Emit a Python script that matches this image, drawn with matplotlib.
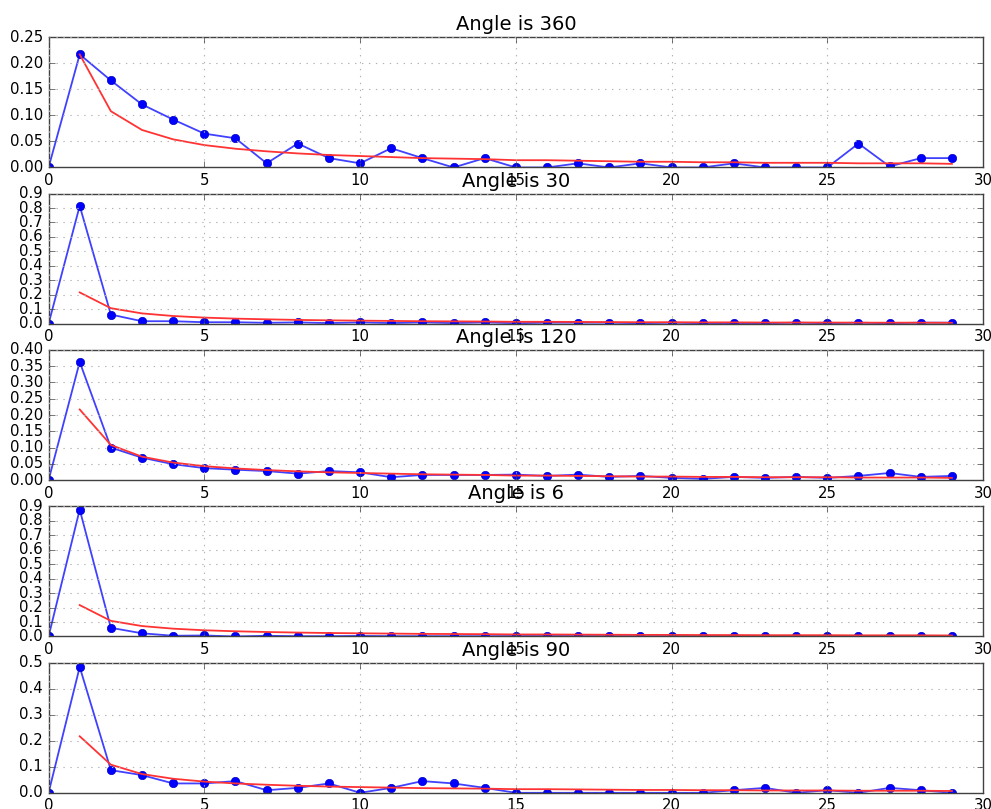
import matplotlib
matplotlib.use('Agg')
import matplotlib.pyplot as plt
import numpy as np

plt.style.use('classic')

# bin index along x
steps = list(range(30))
model_steps = list(range(1, 30))

# reference decay curve (same in every panel)
model = [0.217, 0.108, 0.072, 0.054, 0.043, 0.036, 0.031, 0.027, 0.024, 0.022,
         0.020, 0.018, 0.017, 0.016, 0.014, 0.014, 0.013, 0.012, 0.011, 0.011,
         0.010, 0.010, 0.009, 0.009, 0.009, 0.008, 0.008, 0.008, 0.007]

angle_360 = [0.0, 0.217, 0.167, 0.121, 0.092, 0.065, 0.056, 0.008, 0.046, 0.018,
             0.008, 0.037, 0.018, 0.0, 0.018, 0.0, 0.0, 0.008, 0.0, 0.008,
             0.0, 0.0, 0.008, 0.0, 0.0, 0.0, 0.046, 0.002, 0.018, 0.018]
angle_30 = [0.0, 0.815, 0.064, 0.018, 0.018, 0.011, 0.011, 0.007, 0.010, 0.005,
            0.010, 0.005, 0.010, 0.005, 0.010, 0.004, 0.008, 0.008, 0.008, 0.004,
            0.008, 0.004, 0.004, 0.004, 0.008, 0.004, 0.008, 0.004, 0.008, 0.008]
angle_120 = [0.0, 0.363, 0.100, 0.069, 0.049, 0.037, 0.032, 0.028, 0.020, 0.028,
             0.024, 0.009, 0.016, 0.016, 0.016, 0.017, 0.013, 0.017, 0.010, 0.013,
             0.007, 0.004, 0.010, 0.007, 0.010, 0.007, 0.013, 0.022, 0.010, 0.013]
angle_6 = [0.0, 0.877, 0.060, 0.022, 0.005, 0.007, 0.0, 0.005, 0.002, 0.002,
           0.004, 0.002, 0.002, 0.002, 0.002, 0.003, 0.003, 0.003, 0.002, 0.002,
           0.002, 0.002, 0.002, 0.002, 0.002, 0.002, 0.002, 0.002, 0.002, 0.001]
angle_90 = [0.0, 0.483, 0.087, 0.068, 0.036, 0.036, 0.045, 0.010, 0.019, 0.036,
            0.0, 0.019, 0.045, 0.036, 0.019, 0.0, 0.0, 0.0, 0.0, 0.0,
            0.0, 0.0, 0.010, 0.019, 0.0, 0.010, 0.0, 0.019, 0.010, 0.0]

angles = [360, 30, 120, 6, 90]
series = [angle_360, angle_30, angle_120, angle_6, angle_90]
ymax = [0.25, 0.9, 0.4, 0.9, 0.5]
ystep = [0.05, 0.1, 0.05, 0.1, 0.1]

fig, axs = plt.subplots(nrows=5, ncols=1, figsize=(9.91, 8.09), dpi=100)
fig.subplots_adjust(left=0.049, right=0.992, top=0.954, bottom=0.020, hspace=0.2)

for ax, ang, vals, top, step in zip(axs, angles, series, ymax, ystep):
    ax.plot(steps, vals, '-', color=(0.25, 0.25, 1.0), lw=1.3)
    ax.plot(steps, vals, 'o', color='b', mec=(0, 0, 0.8), ms=6)
    ax.plot(model_steps, model, '-', color=(1.0, 0.2, 0.2), lw=1.3)
    ax.set_xlim(0, 30)
    ax.set_ylim(0, top)
    ax.set_yticks(np.arange(0, top + step / 2, step))
    if step == 0.05:
        ax.yaxis.set_major_formatter(matplotlib.ticker.FormatStrFormatter('%.2f'))
    else:
        ax.yaxis.set_major_formatter(matplotlib.ticker.FormatStrFormatter('%.1f'))
    ax.grid(True, color='0.7', linestyle=(0, (1, 4)), linewidth=0.8)
    for side in ax.spines.values():
        side.set_color('0.25')
    ax.tick_params(labelsize=10.7, color='0.25')
    ax.set_title('Angle is %d' % ang, fontsize=14, pad=5)

fig.savefig('out.png', dpi=100)
